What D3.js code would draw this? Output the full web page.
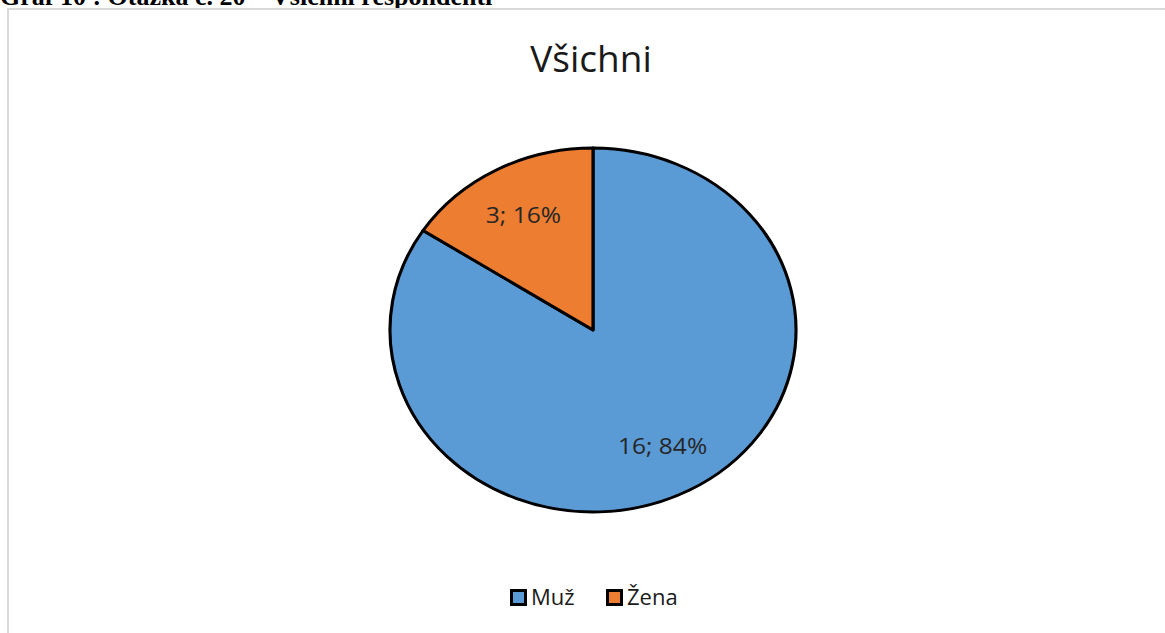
<!DOCTYPE html>
<html>
<head>
<meta charset="utf-8">
<script src="https://cdn.jsdelivr.net/npm/d3@7"></script>
<style>
  html, body { margin: 0; padding: 0; background: #fff; }
  svg { display: block; }
</style>
</head>
<body>
<svg id="chart" width="1165" height="633"></svg>
<script>
// Respondents by gender
const categories = ["Muž", "Žena"];
const counts = [16, 3];
const colors = ["#5b9bd5", "#ed7d31"];
const chartTitle = "Všichni";
const caption = "Graf 10 : Otázka č. 20 – Všichni respondenti";

const svg = d3.select("#chart");
const W = 1165, H = 633;

// figure caption above the chart frame (its upper part runs off the page top)
svg.append("text")
  .attr("x", 0).attr("y", 5)
  .attr("font-family", "Liberation Serif, serif")
  .attr("font-weight", "bold")
  .attr("font-size", 26)
  .attr("fill", "#000")
  .text(caption);

// chart frame
svg.append("rect")
  .attr("x", 8).attr("y", 9)
  .attr("width", W + 10).attr("height", H + 10)
  .attr("fill", "#fff")
  .attr("stroke", "#d9d9d9")
  .attr("stroke-width", 2);

// title
svg.append("text")
  .attr("x", 591).attr("y", 72)
  .attr("text-anchor", "middle")
  .attr("font-family", "Open Sans, sans-serif")
  .attr("font-size", 37)
  .attr("fill", "#1a1a1a")
  .text(chartTitle);

// pie (drawn as a circle, stretched horizontally into the plot ellipse)
const cx = 593, cy = 330;
const rx = 203, ry = 182;
const r = ry;
const sx = rx / ry;

const pie = d3.pie().sort(null).value(d => d)(counts);
const arc = d3.arc().innerRadius(0).outerRadius(r);
const labelArc = d3.arc().innerRadius(r * 0.72).outerRadius(r * 0.72);
const color = d3.scaleOrdinal().domain(categories).range(colors);
const total = d3.sum(counts);

const g = svg.append("g")
  .attr("transform", `translate(${cx},${cy}) scale(${sx},1)`);

g.selectAll("path")
  .data(pie)
  .join("path")
  .attr("d", arc)
  .attr("fill", (d, i) => color(categories[i]))
  .attr("stroke", "#000")
  .attr("stroke-width", 2.8)
  .attr("stroke-linejoin", "round");

// data labels: "value; percent", stretched like the plot
svg.selectAll("text.lbl")
  .data(pie)
  .join("text")
  .attr("class", "lbl")
  .attr("transform", d => {
    const [x, y] = labelArc.centroid(d);
    return `translate(${cx + x * sx},${cy + y}) scale(${sx},1)`;
  })
  .attr("text-anchor", "middle")
  .attr("dominant-baseline", "central")
  .attr("font-family", "Open Sans, sans-serif")
  .attr("font-size", 22)
  .attr("fill", "#262626")
  .text(d => `${d.data}; ${Math.round(d.data / total * 100)}%`);

// legend
const legendX = [510, 606];
const leg = svg.selectAll("g.leg")
  .data(categories)
  .join("g")
  .attr("class", "leg")
  .attr("transform", (d, i) => `translate(${legendX[i]},589)`);

leg.append("rect")
  .attr("x", 1.5).attr("y", 1.5)
  .attr("width", 14).attr("height", 14)
  .attr("fill", d => color(d))
  .attr("stroke", "#000")
  .attr("stroke-width", 3);

leg.append("text")
  .attr("x", 21).attr("y", 16)
  .attr("font-family", "Open Sans, sans-serif")
  .attr("font-size", 22)
  .attr("fill", "#1a1a1a")
  .text(d => d);
</script>
</body>
</html>
